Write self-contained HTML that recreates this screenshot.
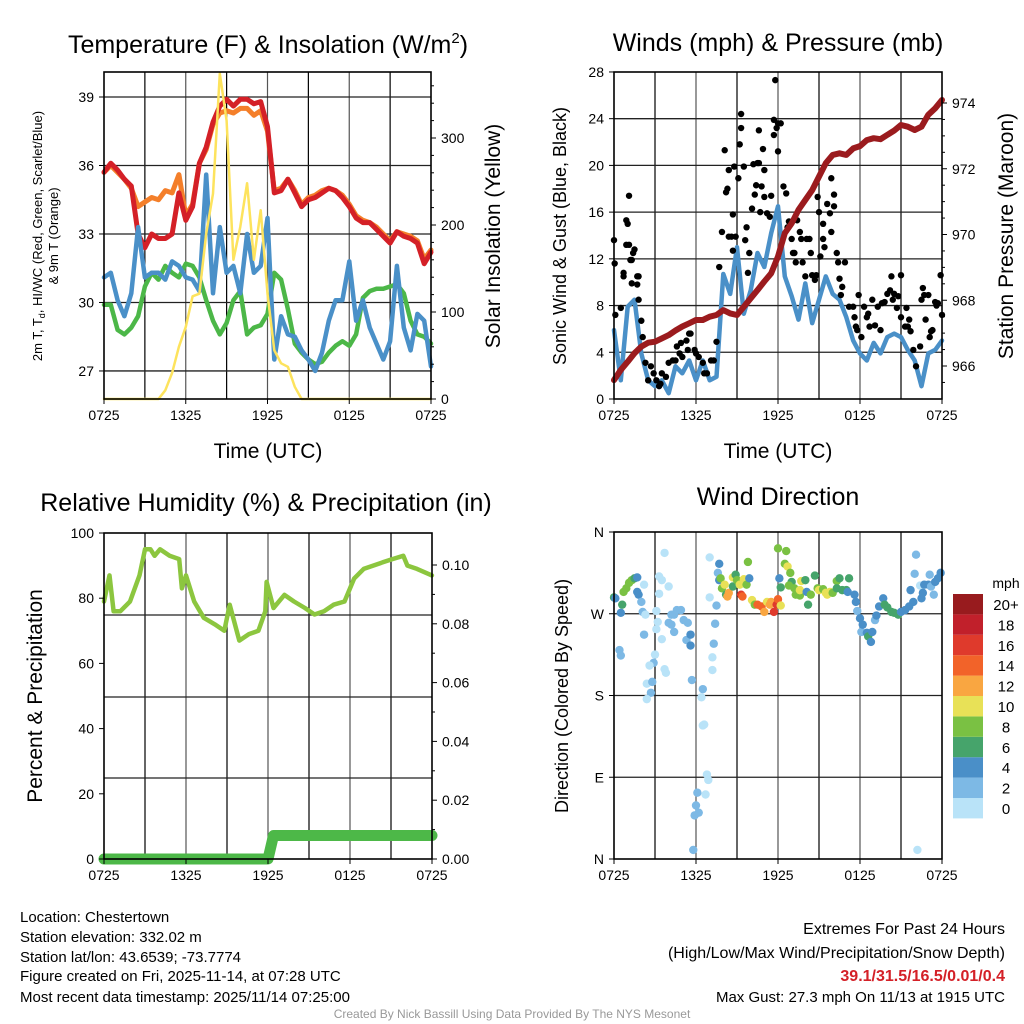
<!DOCTYPE html>
<html><head><meta charset="utf-8"><style>
html,body{margin:0;padding:0;background:#fff;}
svg{display:block;font-family:"Liberation Sans",Arial,sans-serif;}
</style></head><body>
<svg id="fig" width="1024" height="1024" viewBox="0 0 1024 1024" xmlns="http://www.w3.org/2000/svg">
<g id="grids"></g><g id="marks"></g><g id="axes"></g>
<text x="268" y="53" font-size="25" text-anchor="middle">Temperature (F) &amp; Insolation (W/m<tspan dy="-10" font-size="15">2</tspan><tspan dy="10">)</tspan></text>
<text x="778" y="51" font-size="25" text-anchor="middle">Winds (mph) &amp; Pressure (mb)</text>
<text x="266" y="511" font-size="25" text-anchor="middle">Relative Humidity (%) &amp; Precipitation (in)</text>
<text x="778" y="505" font-size="25" text-anchor="middle">Wind Direction</text>
<g font-size="21" text-anchor="middle">
<text x="268" y="458">Time (UTC)</text>
<text x="778" y="458">Time (UTC)</text>
<text transform="translate(500,236) rotate(-90)">Solar Insolation (Yellow)</text>
<text transform="translate(1013,236) rotate(-90)">Station Pressure (Maroon)</text>
<text transform="translate(42,696) rotate(-90)">Percent &amp; Precipitation</text>
</g>
<g font-size="18" text-anchor="middle">
<text transform="translate(566,236) rotate(-90)">Sonic Wind &amp; Gust (Blue, Black)</text>
<text transform="translate(568,696) rotate(-90)">Direction (Colored By Speed)</text>
</g>
<g font-size="13" text-anchor="middle">
<text transform="translate(42,236) rotate(-90)">2m T, T<tspan dy="3" font-size="9">d</tspan><tspan dy="-3">, HI/WC (Red, Green, Scarlet/Blue)</tspan></text>
<text transform="translate(58,236) rotate(-90)">&amp; 9m T (Orange)</text>
</g>
<g id="cbar"></g>
<g font-size="15">
<text x="20" y="922">Location: Chestertown</text>
<text x="20" y="942">Station elevation: 332.02 m</text>
<text x="20" y="962">Station lat/lon: 43.6539; -73.7774</text>
<text x="20" y="981">Figure created on Fri, 2025-11-14, at 07:28 UTC</text>
<text x="20" y="1002">Most recent data timestamp: 2025/11/14 07:25:00</text>
</g>
<g font-size="16" text-anchor="end">
<text x="1005" y="934">Extremes For Past 24 Hours</text>
<text x="1005" y="958">(High/Low/Max Wind/Precipitation/Snow Depth)</text>
<text x="1005" y="981" fill="#d42027" font-weight="bold">39.1/31.5/16.5/0.01/0.4</text>
<text x="1005" y="1002" font-size="15">Max Gust: 27.3 mph On 11/13 at 1915 UTC</text>
</g>
<text x="512" y="1018" font-size="12" fill="#999" text-anchor="middle">Created By Nick Bassill Using Data Provided By The NYS Mesonet</text>
</svg>
<script>
const timeLabels=["0725","1325","1925","0125","0725"];
const tempRed=[35.7,36.1,35.8,35.4,35.1,33.0,32.4,33.0,32.8,32.8,33.0,34.8,33.6,34.2,36.1,36.8,37.9,38.6,38.9,38.6,38.9,38.9,38.7,38.8,37.7,34.8,34.9,35.4,34.8,34.2,34.5,34.6,34.8,35.0,34.9,34.6,34.2,33.7,33.5,33.5,33.2,32.9,32.6,33.1,32.9,32.8,32.6,31.7,32.2];
const tempOrange=[35.7,36.0,35.7,35.4,35.0,34.2,34.4,34.6,34.5,34.9,34.8,35.6,33.8,34.3,36.1,36.7,37.8,38.3,38.4,38.3,38.5,38.5,38.2,38.4,37.5,34.9,35.0,35.4,34.9,34.3,34.6,34.7,34.9,35.0,34.9,34.7,34.3,33.8,33.6,33.5,33.3,33.0,32.7,33.1,33.0,32.9,32.7,31.9,32.3];
const tempDew=[29.9,29.9,28.8,28.6,28.9,29.4,30.7,31.3,31.0,31.6,31.3,31.1,31.7,31.6,31.1,30.1,29.2,28.6,29.1,30.1,30.5,28.6,28.9,29.0,29.5,31.3,31.0,29.7,28.2,27.8,27.5,27.3,27.4,27.8,28.1,28.3,28.1,28.6,30.2,30.5,30.6,30.6,30.7,30.8,30.4,29.2,28.6,28.5,28.2];
const tempWindChill=[31.1,31.3,30.1,29.4,30.4,33.3,31.1,31.3,31.3,31.0,31.8,31.6,31.1,31.0,30.5,35.6,30.4,33.3,31.3,31.6,30.4,33.0,31.3,31.6,33.7,27.5,29.4,28.6,28.5,27.9,27.5,27.0,27.8,29.2,30.1,30.1,31.8,29.2,30.1,28.9,28.2,27.5,28.3,31.6,28.9,27.9,29.5,29.2,27.2];
const solar=[0,0,0,0,0,0,0,0,0,10,30,60,83,118,121,190,236,374,320,160,198,248,160,217,121,56,41,37,14,0,0,0,0,0,0,0,0,0,0,0,0,0,0,0,0,0,0,0,0];
const windSpeed=[5.9,1.6,7.9,8.5,3.9,1.6,1.1,1.6,0.5,2.8,2.2,3.3,1.6,3.3,1.6,1.9,10.7,9.0,13.0,7.3,9.3,12.5,11.3,14.2,16.5,10.5,8.8,6.8,9.9,6.5,8.5,10.5,9.0,8.5,7.0,5.0,3.9,3.3,4.8,3.9,5.3,5.6,5.3,4.2,3.3,1.1,3.9,4.2,5.0];
const pressure=[965.57,965.88,966.13,966.39,966.59,966.71,966.74,966.84,966.94,967.08,967.20,967.30,967.40,967.40,967.50,967.55,967.70,967.60,967.55,967.80,968.06,968.31,968.57,968.82,969.33,970.04,970.34,970.75,971.05,971.35,971.76,972.17,972.42,972.47,972.42,972.62,972.69,972.87,972.93,972.90,973.03,973.16,973.33,973.28,973.18,973.28,973.64,973.84,974.09];
const gustHour=[0,0.05,0.1,0.5,0.7,0.7,0.9,1.0,1.1,0.9,1.1,1.2,1.3,1.4,1.5,1.3,1.7,1.8,1.7,1.8,2.0,2.1,2.3,2.5,2.7,2.9,3.1,3.3,3.4,3.5,3.8,4.0,4.3,4.5,4.6,4.8,4.9,5.0,5.3,5.4,5.5,5.6,5.9,6.0,6.2,6.5,6.6,6.8,7.1,7.3,7.5,7.7,7.9,8.1,8.2,8.3,8.4,8.4,8.6,8.7,8.7,8.8,8.9,9.1,9.2,9.3,9.3,9.5,9.6,9.7,9.8,9.9,10.1,10.2,10.3,10.4,10.5,10.6,10.6,10.7,10.8,10.9,11.0,11.0,11.2,11.4,11.5,11.7,11.7,11.8,11.9,12.0,12.0,12.2,12.4,12.6,12.7,12.8,13.0,13.1,13.2,13.3,13.4,13.6,13.7,13.8,14.0,14.1,14.3,14.4,14.5,14.7,14.8,14.9,15.0,15.1,15.3,15.3,15.4,15.6,15.8,15.9,15.9,16.1,16.1,16.3,16.4,16.5,16.6,16.7,16.9,17.2,17.5,17.6,17.7,17.8,17.9,18.1,18.3,18.5,18.6,18.7,18.9,19.1,19.3,19.5,19.6,19.8,20.0,20.2,20.3,20.4,20.5,20.7,20.8,21.0,21.0,21.3,21.4,21.5,21.6,21.7,21.9,22.1,22.4,22.5,22.6,22.7,22.8,23.0,23.1,23.2,23.3,23.5,23.6,23.7,23.9,24.0];
const gustMph=[13.6,11.6,7.2,7.8,10.8,10.5,15.3,15.0,17.4,13.2,13.2,11.9,11.9,12.5,12.8,9.9,10.5,10.5,9.8,8.5,6.7,5.3,3.1,1.6,2.8,2.2,1.6,1.1,1.3,2.2,1.9,3.1,3.3,3.3,4.5,3.9,4.8,3.6,5.0,4.2,5.6,5.6,4.2,3.9,3.6,3.1,2.2,2.2,3.3,3.3,4.9,11.3,14.3,21.3,17.7,18.0,19.6,13.9,13.9,12.7,15.8,19.9,13.9,18.9,21.8,23.2,24.4,19.9,13.6,14.7,10.8,12.5,16.3,20.1,17.5,18.3,20.2,23.0,20.2,16.0,18.2,21.4,17.3,19.6,15.9,15.6,17.4,22.6,23.9,27.3,23.2,21.2,23.6,23.6,18.2,17.6,14.7,15.2,13.7,12.5,12.5,11.7,15.3,14.3,13.7,11.7,10.5,13.7,13.7,12.5,10.6,10.2,10.6,17.3,16.0,12.2,13.7,15.0,13.0,16.7,15.9,18.9,14.3,16.5,17.5,12.5,11.7,10.3,8.9,9.6,11.7,7.9,7.9,7.0,6.2,5.9,8.9,5.3,7.9,7.0,7.3,6.2,8.5,6.3,7.9,5.9,8.2,8.3,9.0,9.3,10.5,8.5,9.0,7.8,8.8,10.6,7.0,6.2,7.8,6.2,6.8,5.8,4.2,2.8,4.5,8.5,9.5,8.9,6.8,8.9,5.3,5.8,5.9,8.3,8.0,8.2,10.6,7.2];
const rhHour=[0,0.4,0.7,1.2,1.9,2.6,3.0,3.4,3.7,4.1,4.8,5.5,5.7,6.0,6.6,7.3,8.1,8.8,9.2,9.9,10.6,11.3,11.8,11.9,12.4,13.2,13.9,14.7,15.4,16.1,16.8,17.6,18.3,19.0,19.7,20.4,21.1,21.9,22.2,22.9,23.99];
const rhVal=[79,87,76,76,79,87,95,95,93,95,93,92,83,87,79,74,72,70,78,67,69,70,76,85,77,81,79,77,75,76,78,79,86,89,90,91,92,93,90,89,87];
const precipHour=[0,12.0,12.4,24];
const precipVal=[0,0,0.008,0.008];
const dirHour=[0.0,0.1,0.5,0.6,0.7,0.9,1.1,1.3,1.5,1.7,1.7,1.8,2.0,2.1,2.2,2.2,0.4,0.5,2.3,3.1,3.3,3.5,3.7,3.3,4.0,3.2,3.1,3.5,4.2,4.4,4.6,4.9,4.0,4.4,4.2,5.1,5.4,5.3,5.6,5.6,3.0,2.9,2.6,3.7,3.8,2.4,2.8,2.7,2.4,5.7,6.5,6.4,6.5,6.6,6.8,6.9,6.1,6.7,6.0,6.2,5.9,5.8,7.0,7.0,7.5,7.4,7.3,7.2,7.2,7.7,7.6,7.7,7.8,7.9,8.1,8.2,8.3,8.4,8.7,8.7,8.9,9.0,9.2,9.3,9.4,9.5,9.7,9.8,9.9,10.1,10.3,10.5,10.8,11.0,11.2,11.4,11.5,11.7,11.9,12.0,12.2,12.1,12.2,12.0,12.6,12.5,12.7,12.9,13.0,12.8,13.2,13.3,13.6,13.6,13.7,14.0,14.1,14.2,14.4,14.7,14.9,15.0,15.3,15.5,15.6,15.8,16.0,16.3,16.3,16.5,16.7,17.0,17.1,17.2,17.6,17.7,17.8,18.0,18.1,18.2,18.5,18.6,18.8,18.9,19.1,19.2,19.4,19.7,19.8,20.0,20.3,20.5,20.8,21.0,21.3,21.6,21.7,21.9,22.0,22.1,22.4,22.5,22.6,22.7,23.0,23.1,23.2,23.4,23.5,23.7,23.9,22.2];
const dirDeg=[288,287,271,280,294,298,304,307,309,310,294,291,283,272,302,247,230,224,269,273,311,307,337,292,300,261,253,242,269,269,274,274,260,250,258,263,260,241,235,247,225,216,213,209,205,193,195,183,176,197,187,178,147,148,93,87,73,71,59,51,48,10,332,288,279,259,237,222,208,325,315,307,309,298,302,291,289,293,300,310,313,307,302,291,289,308,302,327,309,285,280,280,278,272,283,280,283,272,280,286,279,309,299,342,339,325,322,315,305,301,298,291,290,296,306,307,294,280,291,312,298,296,297,293,291,294,293,306,298,309,296,296,294,309,291,283,273,265,250,258,249,245,239,250,263,268,278,287,280,277,272,271,269,272,274,278,296,283,314,335,301,287,293,302,302,313,300,291,305,309,315,10];
const dirSpd=[7,5,5,7,9,9,9,9,7,5,5,5,3,3,1,3,3,3,1,1,1,1,1,1,1,1,1,1,3,3,3,3,3,3,3,3,3,3,5,5,1,3,1,1,1,1,3,3,1,3,3,1,1,1,1,1,3,1,3,3,3,3,1,1,3,3,3,1,1,5,3,5,9,9,11,7,13,13,7,11,7,9,11,17,15,11,9,9,5,11,9,15,15,13,11,13,13,17,16,15,11,5,7,9,9,9,11,9,7,9,9,9,9,11,11,7,5,7,9,7,9,11,9,11,11,11,9,9,7,7,7,7,5,7,5,5,3,5,3,5,5,7,5,5,3,5,5,5,7,7,7,7,7,5,5,5,5,5,3,3,1,5,5,5,5,3,3,3,5,5,5,1];
const cbarLabels=["0","2","4","6","8","10","12","14","16","18","20+"];
const cbarColors=["#b9e3f8","#7db9e5","#4a8fc8","#46a46b","#7ac143","#e8e157","#f9a641","#f26329","#df3a2c","#c1202b","#981b1e"];

const NS="http://www.w3.org/2000/svg";
const G=document.getElementById('grids'),M=document.getElementById('marks'),A=document.getElementById('axes'),CB=document.getElementById('cbar');
function el(p,t,at){const e=document.createElementNS(NS,t);for(const k in at)e.setAttribute(k,at[k]);p.appendChild(e);return e;}
const P1={x0:104,x1:431,y0:72,y1:399},P2={x0:614,x1:942,y0:72,y1:399},P3={x0:104,x1:432,y0:533,y1:859},P4={x0:614,x1:942,y0:532,y1:859};
const hx=(P,h)=>P.x0+h*(P.x1-P.x0)/24;
const tY=t=>97+(39-t)*22.83, sY=w=>399-w*0.87;
const wY=s=>399-s*11.68, pY=p=>366-(p-966)*32.875;
const rY=r=>859-r*3.26, prY=p=>859-p*2940;
const dY=d=>859-d*327/360;
const halfHours=tempRed.map((_,i)=>i*0.5);

function grid(P,hy,name){
  for(let i=1;i<8;i++){const x=P.x0+i*(P.x1-P.x0)/8;const l=el(G,'line',{x1:x,x2:x,y1:P.y0,y2:P.y1,stroke:i%2?'#000':'#555','stroke-width':1.2});
    
    }
  hy.forEach(y=>{const l=el(G,'line',{x1:P.x0,x2:P.x1,y1:y,y2:y,stroke:'#222','stroke-width':1.3});
    
    });
  const r=el(A,'rect',{x:P.x0,y:P.y0,width:P.x1-P.x0,height:P.y1-P.y0,fill:'none',stroke:'#000','stroke-width':1.6});
  
  
  timeLabels.forEach((s,i)=>{const x=P.x0+i*(P.x1-P.x0)/4;
    el(A,'line',{x1:x,x2:x,y1:P.y1,y2:P.y1+5,stroke:'#000'});
    const t=el(A,'text',{x:x,y:P.y1+21,'font-size':14,'text-anchor':'middle'});t.textContent=s;
    
    });
}
function ticks(P,vals,fy,side,fmt,name){
  vals.forEach(v=>{const y=fy(v);const x=side==='l'?P.x0:P.x1;
    el(A,'line',{x1:x,x2:side==='l'?x-5:x+5,y1:y,y2:y,stroke:'#000'});
    const t=el(A,'text',{x:side==='l'?x-10:x+10,y:y+5,'font-size':14,'text-anchor':side==='l'?'end':'start'});t.textContent=fmt(v);
    
    });
}
function minor(P,vals,fy){vals.forEach(v=>{const y=fy(v);el(A,'line',{x1:P.x1,x2:P.x1+3,y1:y,y2:y,stroke:'#000'});});}
function path(xs,ys,P,fy,color,w,name){
  const d=xs.map((h,i)=>(i?'L':'M')+hx(P,h).toFixed(1)+','+fy(ys[i]).toFixed(1)).join('');
  const p=el(M,'path',{d:d,fill:'none',stroke:color,'stroke-width':w,'stroke-linejoin':'round','stroke-linecap':'round'});
  
  
}
// Panel 1
grid(P1,[27,30,33,36,39].map(tY),'temp');
ticks(P1,[27,30,33,36,39],tY,'l',v=>v,'temp-left');
ticks(P1,[0,100,200,300],sY,'r',v=>v,'solar-right');
minor(P1,[20,40,60,80,120,140,160,180,220,240,260,280,320,340,360],sY);
path(halfHours,tempOrange,P1,tY,'#f47f2a',5,'temp-9m-line');
path(halfHours,tempRed,P1,tY,'#d42027',5,'temp-2m-line');
path(halfHours,tempDew,P1,tY,'#4cb748',4.5,'dewpoint-line');
path(halfHours,tempWindChill,P1,tY,'#4a90c8',4.5,'windchill-line');
path(halfHours,solar,P1,sY,'#fde35d',2.5,'solar-line');
// Panel 2
grid(P2,[4,8,12,16,20,24].map(wY),'winds');
ticks(P2,[0,4,8,12,16,20,24,28],wY,'l',v=>v,'wind-left');
ticks(P2,[966,968,970,972,974],pY,'r',v=>v,'pressure-right');
minor(P2,[965.5,966.5,967,967.5,968.5,969,969.5,970.5,971,971.5,972.5,973,973.5],pY);
path(halfHours,windSpeed,P2,wY,'#4a90c8',4.5,'wind-speed-line');
gustHour.forEach((h,i)=>{const c=el(M,'circle',{cx:hx(P2,h),cy:wY(gustMph[i]),r:3.2,fill:'#000'});
  
  });
path(halfHours,pressure,P2,pY,'#9b1b1e',6,'pressure-line');
// Panel 3
grid(P3,[615,697,778],'humidity');
ticks(P3,[0,20,40,60,80,100],rY,'l',v=>v,'humidity-left');
ticks(P3,[0,0.02,0.04,0.06,0.08,0.10],prY,'r',v=>v.toFixed(2),'precip-right');
minor(P3,[0.01,0.03,0.05,0.07,0.09],prY);
path(rhHour,rhVal,P3,rY,'#8cc63f',4.5,'humidity-line');
path(precipHour,precipVal,P3,prY,'#4db848',11,'precip-line');
// Panel 4
grid(P4,[90,180,270].map(dY),'direction');
ticks(P4,[0,90,180,270,360],dY,'l',v=>['N','E','S','W','N'][v/90],'direction-left');
dirHour.forEach((h,i)=>{const idx=Math.min(10,Math.floor(dirSpd[i]/2));
  const c=el(M,'circle',{cx:hx(P4,h),cy:dY(dirDeg[i]),r:4.2,fill:cbarColors[idx]});
  
  });
// Colorbar
const cbt=el(CB,'text',{x:1006,y:588,'font-size':14,'text-anchor':'middle'});cbt.textContent='mph';


cbarLabels.forEach((s,i)=>{const y=798-i*20.4;
  const r=el(CB,'rect',{x:953,y:y,width:30,height:20.4,fill:cbarColors[i]});
  
  
  const t=el(CB,'text',{x:1006,y:y+16,'font-size':15,'text-anchor':'middle'});t.textContent=s;
  
  });
</script>
</body></html>
